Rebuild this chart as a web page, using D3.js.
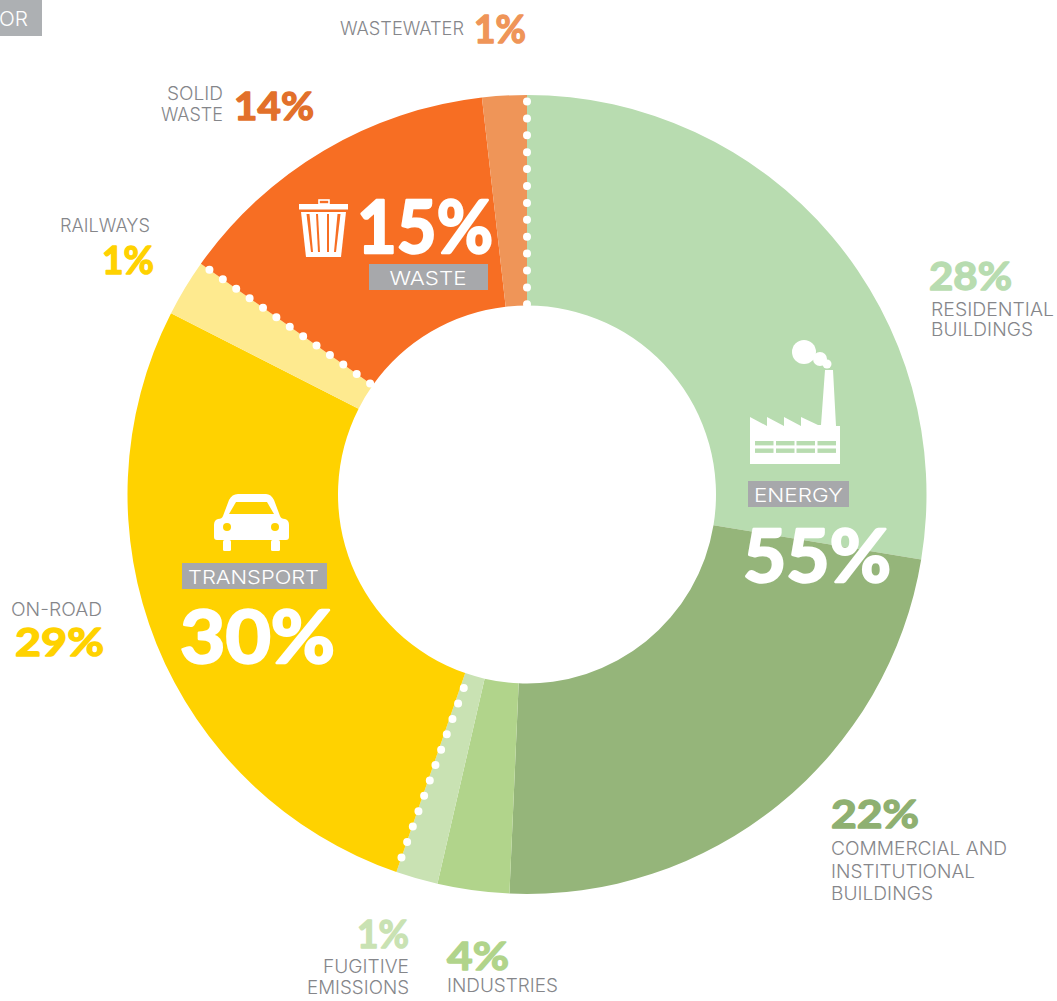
<!DOCTYPE html>
<html><head><meta charset="utf-8">
<script src="https://cdnjs.cloudflare.com/ajax/libs/d3/7.8.5/d3.min.js"></script>
<style>html,body{margin:0;padding:0;background:#fff;overflow:hidden}svg{display:block}text{font-family:Inter,"Noto Sans",sans-serif}text.big{font-family:Lato,Inter,sans-serif}</style>
</head><body><svg id="c" width="1057" height="1001"></svg>
<script>
// Data
const categories = ["Residential buildings","Commercial and institutional buildings","Industries","Fugitive emissions","On-road","Railways","Solid waste","Wastewater"];
const sliceShares = [27.6,23.1,2.9,1.7,27.2,2.3,13.4,1.8];
const sharePrintedLabels = ["28%","22%","4%","1%","29%","1%","14%","1%"];
const categoryLabelLines = [["RESIDENTIAL","BUILDINGS"],["COMMERCIAL AND","INSTITUTIONAL","BUILDINGS"],["INDUSTRIES"],["FUGITIVE","EMISSIONS"],["ON-ROAD"],["RAILWAYS"],["SOLID","WASTE"],["WASTEWATER"]];
const sectorNames = ["ENERGY","TRANSPORT","WASTE"];
const sectorTotals = ["55%","30%","15%"];
const sectorLastSlice = [3,5,7];

// Styling
const sliceColors = ["#b8dcb0","#95b57a","#b1d48b","#c9e2b3","#ffd200","#feea8f","#f76e23","#ef9558"];
const shareColors = ["#b8dcb0","#8fb071","#b1d48b","#c9e2b3","#ffd200","#ffd200","#e2702a","#ef9558"];
const cx=527, cy=494.5, R=399.5, r0=189;
const svg=d3.select("#c");

const pie=d3.pie().value(d=>d).sort(null)(sliceShares);
const arc=d3.arc().innerRadius(r0).outerRadius(R);
const g=svg.append("g").attr("transform",`translate(${cx},${cy})`);
g.selectAll("path.slice").data(pie).join("path").attr("class","slice")
 .attr("d",arc).attr("fill",(d,i)=>sliceColors[i]);

// dotted sector separators (outer radius, inner radius, inner-end angular nudge, dash gap)
const sepLayout=[[384,190,0.02,16.4],[389,190,0,16.4],[393,190,0,16.9]];
sectorLastSlice.forEach((s,k)=>{
  const a=pie[s].endAngle; const [ro,ri,nudge,gap]=sepLayout[k];
  const p0=d3.pointRadial(a,ro), p1=d3.pointRadial(a-nudge,ri);
  g.append("line").attr("x1",p0[0]).attr("y1",p0[1]).attr("x2",p1[0]).attr("y2",p1[1])
   .attr("stroke","#fff").attr("stroke-width",8).attr("stroke-linecap","round")
   .attr("stroke-dasharray","0 "+gap);
});

function put(t,x,y,size,fill,width,opts={}){
  const n=svg.append("text").text(t).attr("x",x).attr("y",y).attr("font-size",size).attr("fill",fill)
   .attr("font-weight",opts.weight||300).attr("text-anchor",opts.anchor||"start");
  if(opts.cls)n.attr("class",opts.cls);
  if(width){n.attr("textLength",width).attr("lengthAdjust","spacingAndGlyphs");}
  if(opts.round){n.attr("stroke",fill).attr("stroke-width",opts.round).attr("stroke-linejoin","round");}
  return n;
}
const grey="#85868a";
// side percentages [x, baseline, width]
const shareLayout=[[929,290,83],[831,828,88],[447,970,62],[357,948,52],[15,656,89],[102,274,52],[234,120,80],[474,43,52]];
sharePrintedLabels.forEach((t,i)=>{const [x,y,w]=shareLayout[i];
  put(t,x,y,39,shareColors[i],w,{weight:700,round:1.4,cls:"big"});});
// side category labels: [x, [baselines], [widths], anchor]
const nameLayout=[
 [931,[316,336],[123,102]],
 [831,[855,878,900],[176,144,102]],
 [447,[992],[111]],
 [409,[973,994],[86,102],"end"],
 [11,[616],[91]],
 [60,[232],[90]],
 [223,[100,121],[56,62],"end"],
 [340,[35],[124]]];
categoryLabelLines.forEach((lines,i)=>{const [x,ys,ws,an]=nameLayout[i];
  lines.forEach((t,j)=>{
    put(t,an==="end"?x-ws[j]:x,ys[j],18,grey,ws[j]);
  });});

// sector tags and totals
const tagLayout=[[748,481,101,26,754,502,89],[182,563,145,26,188,584,131],[369,264,119,26,389.5,285,77]];
const totalLayout=[[743,582,148],[180,663,155],[357,253,136]];
sectorNames.forEach((t,i)=>{const [bx,by,bw,bh,tx,ty,tw]=tagLayout[i];
  svg.append("rect").attr("x",bx).attr("y",by).attr("width",bw).attr("height",bh).attr("fill","#a7a8ab");
  put(t,tx,ty,19,"#fff",tw);
  const [x,y,w]=totalLayout[i];
  put(sectorTotals[i],x,y,73,"#fff",w,{weight:700,round:2.4,cls:"big"});
});

// corner tag
svg.append("rect").attr("x",0).attr("y",0).attr("width",42).attr("height",36).attr("fill","#adb0b3");
put("OR",-1,26,20,"#fff",29);

// factory icon
const fac=svg.append("g").attr("fill","#fff");
fac.append("path").attr("d","M750 464V417L767 426V417L784 426V417L801 426V417L818 425H821L825 370H833L836 426H840V464Z");
[[804,352,12],[820,359,7],[827,364,4.5]].forEach(c=>fac.append("circle").attr("cx",c[0]).attr("cy",c[1]).attr("r",c[2]));
[[755,18.5],[776,18.5],[796.5,18.5],[817.5,18.5]].forEach(w=>[441,448.5].forEach(y=>
  fac.append("rect").attr("x",w[0]).attr("y",y).attr("width",w[1]).attr("height",4.4).attr("fill","#b8dcb0")));

// car icon
const car=svg.append("g");
car.append("path").attr("fill","#fff").attr("d","M238 494H266Q271 494 274 500L280 516Q281 519 285 519Q289 520 289 525V537Q289 540 286 540H217Q214 540 214 537V525Q214 520 218 519Q222 519 223 516L229 500Q232 494 238 494Z");
car.append("path").attr("fill","#ffd200").attr("d","M236 502H267L274 514H229Z");
car.append("circle").attr("cx",227).attr("cy",527).attr("r",4).attr("fill","#ffd200");
car.append("circle").attr("cx",275).attr("cy",527).attr("r",4).attr("fill","#ffd200");
car.append("rect").attr("x",223).attr("y",540).attr("width",8).attr("height",11).attr("rx",1.5).attr("fill","#fff");
car.append("rect").attr("x",271).attr("y",540).attr("width",9).attr("height",11).attr("rx",1.5).attr("fill","#fff");

// bin icon
const bin=svg.append("g");
bin.append("rect").attr("x",299).attr("y",204).attr("width",49).attr("height",5.5).attr("fill","#fff");
bin.append("rect").attr("x",319).attr("y",200).attr("width",10).attr("height",4).attr("fill","none").attr("stroke","#fff").attr("stroke-width",1.6);
bin.append("path").attr("fill","#fff").attr("d","M301 212H346L341 257H306Z");
[[306.5,309.5,311,313],[316,318,318,320],[327,329,327,329],[337.5,340.5,334,336]].forEach(s=>
  bin.append("path").attr("fill","#f76e23").attr("d",`M${s[0]} 214H${s[1]}L${s[3]} 252H${s[2]}Z`));
</script></body></html>
